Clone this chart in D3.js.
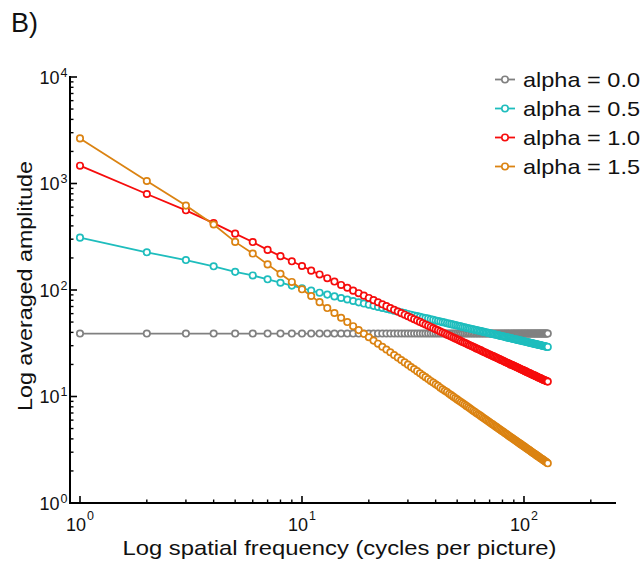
<!DOCTYPE html>
<html><head><meta charset="utf-8">
<script src="https://cdn.jsdelivr.net/npm/d3@7"></script>
<style>body{margin:0;background:#fff}svg{display:block}text{font-family:"Liberation Sans",Arial,Helvetica,sans-serif;fill:#111}</style>
</head><body>
<svg id="c" width="642" height="562"></svg>
<script>
const freq = d3.range(1, 129);
const seriesNames = ["alpha = 0.0", "alpha = 0.5", "alpha = 1.0", "alpha = 1.5"];
const colors = ["#808080", "#1ebdbd", "#f60c0c", "#db8312"];
const xTickValues = [1, 10, 100];
const yTickValues = [1, 10, 100, 1000, 10000];
const xTickExp = ["0", "1", "2"];
const yTickExp = ["0", "1", "2", "3", "4"];

const alpha00 = [39,39,39,39,39,39,39,39,39,39,39,39,39,39,39,39,39,39,39,39,
39,39,39,39,39,39,39,39,39,39,39,39,39,39,39,39,39,39,39,39,
39,39,39,39,39,39,39,39,39,39,39,39,39,39,39,39,39,39,39,39,
39,39,39,39,39,39,39,39,39,39,39,39,39,39,39,39,39,39,39,39,
39,39,39,39,39,39,39,39,39,39,39,39,39,39,39,39,39,39,39,39,
39,39,39,39,39,39,39,39,39,39,39,39,39,39,39,39,39,39,39,39,
39,39,39,39,39,39,39,39];
const alpha05 = [310,226,191,167,148,137,126,117,110,104,
98.8,94.3,90.5,87.1,84.1,81.4,78.8,76.6,74.6,72.8,
71.0,69.4,67.9,66.5,65.2,64.0,62.8,61.7,60.6,59.6,
58.6,57.7,56.9,56.0,55.2,54.5,53.8,53.1,52.4,51.7,
51.1,50.5,49.9,49.4,48.8,48.3,47.8,47.3,46.8,46.4,
45.9,45.5,45.0,44.6,44.2,43.8,43.5,43.1,42.7,42.4,
42.0,41.7,41.4,41.1,40.7,40.4,40.1,39.8,39.6,39.3,
39.0,38.7,38.5,38.2,38.0,37.7,37.5,37.2,37.0,36.8,
36.6,36.3,36.1,35.9,35.7,35.5,35.3,35.1,34.9,34.7,
34.5,34.3,34.2,34.0,33.8,33.6,33.5,33.3,33.1,33.0,
32.8,32.6,32.5,32.3,32.2,32.0,31.9,31.7,31.6,31.4,
31.3,31.2,31.0,30.9,30.8,30.6,30.5,30.4,30.3,30.1,
30.0,29.9,29.8,29.6,29.5,29.4,29.3,29.2];
const alpha10 = [1470,797,560,425,338,282,238,208,186,168,
152,140,129,120,111.5,105,98.6,93.3,88.5,84.2,
80.3,76.7,73.4,70.5,67.7,65.2,62.8,60.6,58.6,56.7,
54.9,53.2,51.6,50.2,48.8,47.4,46.2,45.0,43.9,42.8,
41.8,40.8,39.9,39.0,38.1,37.3,36.6,35.8,35.1,34.4,
33.8,33.1,32.5,31.9,31.4,30.8,30.3,29.8,29.3,28.8,
28.3,27.9,27.5,27.1,26.6,26.2,25.9,25.5,25.1,24.8,
24.4,24.1,23.8,23.5,23.2,22.9,22.6,22.3,22.0,21.8,
21.5,21.2,21.0,20.7,20.5,20.3,20.0,19.8,19.6,19.4,
19.2,19.0,18.8,18.6,18.4,18.2,18.0,17.8,17.7,17.5,
17.3,17.2,17.0,16.8,16.7,16.5,16.4,16.2,16.1,15.9,
15.8,15.7,15.5,15.4,15.3,15.1,15.0,14.9,14.8,14.6,
14.5,14.4,14.3,14.2,14.1,14.0,13.9,13.8];
const alpha15 = [2650,1055,620,412,283,220,174,142,119,101.5,
87.8,76.9,67.7,60.8,54.9,50.0,45.7,42.0,38.8,36.0,
33.5,31.3,29.3,27.6,26.0,24.5,23.2,22.0,20.9,19.9,
18.9,18.1,17.3,16.5,15.8,15.2,14.6,14.0,13.5,13.0,
12.6,12.1,11.7,11.3,11.0,10.6,10.3,9.97,9.67,9.39,
9.12,8.86,8.62,8.39,8.16,7.95,7.75,7.55,7.36,7.19,
7.01,6.85,6.69,6.54,6.39,6.25,6.11,5.98,5.85,5.73,
5.61,5.50,5.39,5.28,5.18,5.08,4.98,4.89,4.80,4.71,
4.63,4.54,4.46,4.39,4.31,4.24,4.17,4.10,4.03,3.96,
3.90,3.84,3.78,3.72,3.66,3.61,3.55,3.50,3.45,3.40,
3.35,3.30,3.25,3.21,3.16,3.12,3.08,3.03,2.99,2.95,
2.91,2.88,2.84,2.80,2.77,2.73,2.70,2.66,2.63,2.60,
2.57,2.54,2.51,2.48,2.45,2.42,2.39,2.36];
const seriesValues = [alpha00, alpha05, alpha10, alpha15];

const svg = d3.select("#c");
const x = d3.scaleLog().domain([0.9015, 259.7]).range([70, 616]);
const y = d3.scaleLog().domain([1, 10000]).range([503, 77]);

// panel label
svg.append("text").attr("x", 11).attr("y", 32).attr("font-size", 27).text("B)");

// series
seriesValues.forEach((vals, i) => {
  const pts = freq.map((f, j) => [f, vals[j]]);
  const g = svg.append("g");
  g.append("path").datum(pts)
    .attr("fill", "none").attr("stroke", colors[i]).attr("stroke-width", 1.8)
    .attr("d", d3.line().x(d => x(d[0])).y(d => y(d[1])));
  g.selectAll("circle").data(pts).join("circle")
    .attr("cx", d => x(d[0])).attr("cy", d => y(d[1])).attr("r", 3.2)
    .attr("fill", "#fff").attr("stroke", colors[i]).attr("stroke-width", 1.7);
});

// axes
const xMinor = [];
[1, 10, 100].forEach(d => { for (let k = 2; k <= 9; k++) { const v = d * k; if (v <= 259) xMinor.push(v); } });
const yMinor = [];
[1, 10, 100, 1000].forEach(d => { for (let k = 2; k <= 9; k++) yMinor.push(d * k); });

const ax = svg.append("g");
ax.append("line").attr("x1", 70).attr("x2", 616).attr("y1", 503).attr("y2", 503)
  .attr("stroke", "#000").attr("stroke-width", 2);
ax.append("line").attr("x1", 70).attr("x2", 70).attr("y1", 76).attr("y2", 504)
  .attr("stroke", "#000").attr("stroke-width", 2);
ax.selectAll(".xt").data(xTickValues).join("line")
  .attr("x1", d => x(d)).attr("x2", d => x(d)).attr("y1", 503).attr("y2", 496)
  .attr("stroke", "#000").attr("stroke-width", 1.6);
ax.selectAll(".xm").data(xMinor).join("line")
  .attr("x1", d => x(d)).attr("x2", d => x(d)).attr("y1", 503).attr("y2", 499.5)
  .attr("stroke", "#000").attr("stroke-width", 1.4);
ax.selectAll(".yt").data(yTickValues).join("line")
  .attr("y1", d => y(d)).attr("y2", d => y(d)).attr("x1", 70).attr("x2", 77)
  .attr("stroke", "#000").attr("stroke-width", 1.6);
ax.selectAll(".ym").data(yMinor).join("line")
  .attr("y1", d => y(d)).attr("y2", d => y(d)).attr("x1", 70).attr("x2", 73.5)
  .attr("stroke", "#000").attr("stroke-width", 1.4);

// tick labels
xTickValues.forEach((v, i) => {
  const px = x(v);
  ax.append("text").attr("x", px + 6).attr("y", 531).attr("font-size", 18)
    .attr("text-anchor", "end").text("10");
  ax.append("text").attr("x", px + 7).attr("y", 519.5).attr("font-size", 12.5)
    .text(xTickExp[i]);
});
yTickValues.forEach((v, i) => {
  const py = y(v);
  ax.append("text").attr("x", 59.5).attr("y", py + 6.5).attr("font-size", 18)
    .attr("text-anchor", "end").text("10");
  ax.append("text").attr("x", 60.5).attr("y", py - 0.5).attr("font-size", 12.5)
    .text(yTickExp[i]);
});

// axis titles
svg.append("text").attr("x", 339.5).attr("y", 555).attr("font-size", 21)
  .attr("text-anchor", "middle").attr("textLength", 434).attr("lengthAdjust", "spacingAndGlyphs")
  .text("Log spatial frequency (cycles per picture)");
svg.append("text").attr("transform", "translate(32,286) rotate(-90)").attr("font-size", 21)
  .attr("text-anchor", "middle").attr("textLength", 250).attr("lengthAdjust", "spacingAndGlyphs")
  .text("Log averaged amplitude");

// legend
const lg = svg.append("g");
seriesNames.forEach((name, i) => {
  const cy = 79.5 + 29 * i;
  lg.append("line").attr("x1", 495).attr("x2", 515).attr("y1", cy).attr("y2", cy)
    .attr("stroke", colors[i]).attr("stroke-width", 1.8);
  lg.append("circle").attr("cx", 505).attr("cy", cy).attr("r", 3.2)
    .attr("fill", "#fff").attr("stroke", colors[i]).attr("stroke-width", 1.6);
  lg.append("text").attr("x", 523).attr("y", cy + 7.4).attr("font-size", 21)
    .attr("textLength", 117).attr("lengthAdjust", "spacingAndGlyphs").text(name);
});
</script>
</body></html>
